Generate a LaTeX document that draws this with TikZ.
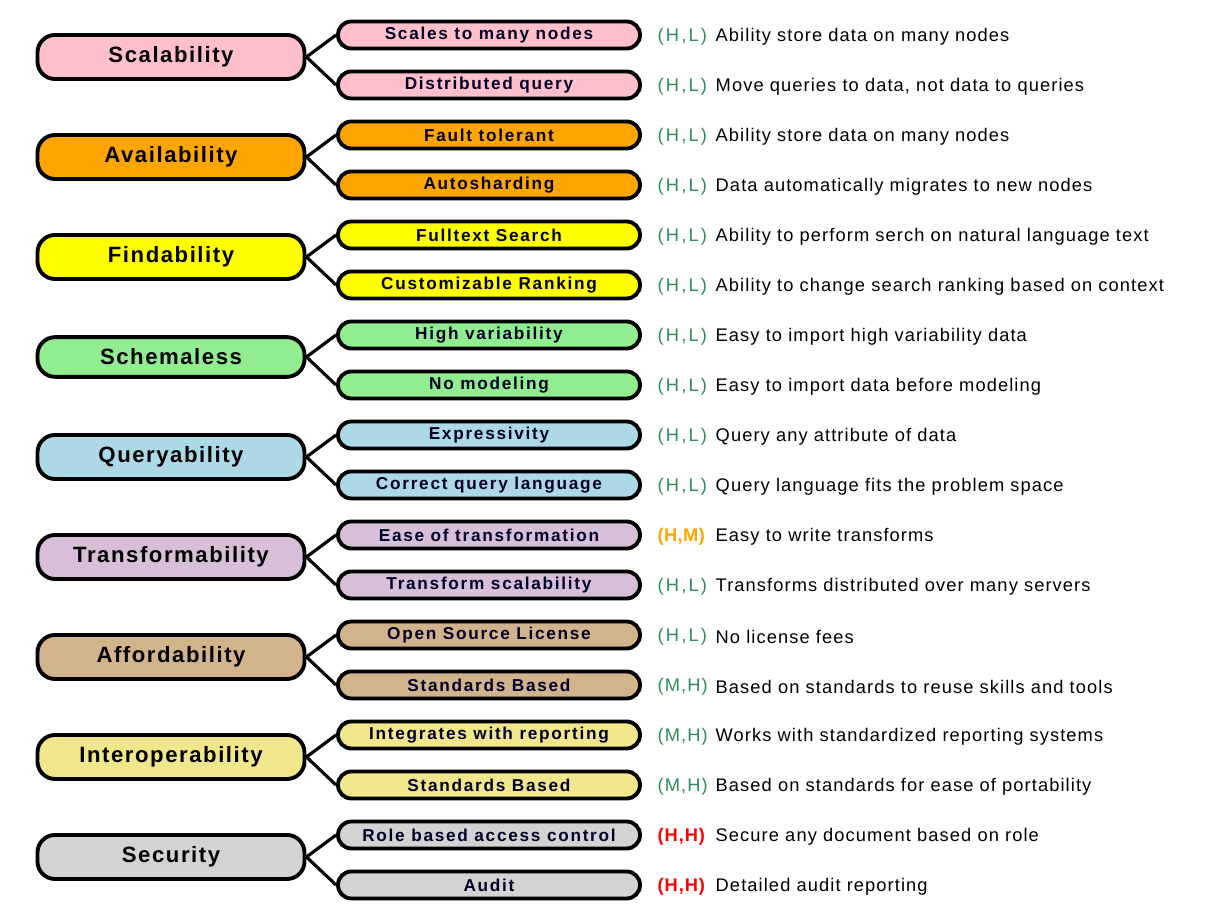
\documentclass[tikz,border=0pt]{standalone}
\usepackage{fontspec}
\setmainfont{Liberation Sans}
\usetikzlibrary{positioning}
\definecolor{rgreen}{HTML}{2E8B57}
\definecolor{rorange}{HTML}{FFA500}
\tikzset{mainbox/.style = {draw, line width=1.1pt, rounded corners=5pt, minimum width=2.67cm, minimum height=0.38cm, font=\fontsize{6.3}{7}\selectfont\bfseries\addfontfeature{LetterSpace=7}},
         subbox/.style = {draw, line width=1.1pt, rounded corners=3.8pt, minimum width=3.02cm, minimum height=0.27cm, inner sep=0pt, font=\fontsize{4.9}{5}\selectfont\bfseries\addfontfeature{LetterSpace=10}, text=black!85!blue},
         branch/.style = {line width=0.9pt},
         desc/.style = {anchor=west, inner sep=0pt, font=\fontsize{5.2}{5.7}\selectfont\addfontfeature{LetterSpace=6}}}
\newcommand{\rl}{\textcolor{rgreen}{\addfontfeature{LetterSpace=12}(H,L)}}
\newcommand{\rmh}{\textcolor{rgreen}{\addfontfeature{LetterSpace=6}(M,H)}}
\newcommand{\rhm}{\textcolor{rorange}{\bfseries\addfontfeature{LetterSpace=2}(H,M)}}
\newcommand{\rhh}{\textcolor{red}{\bfseries\addfontfeature{LetterSpace=5}(H,H)}}
\begin{document}
\begin{tikzpicture}
\useasboundingbox (0,0) rectangle (12.14,-9.22);

\foreach \i/\name/\fc/\sa/\sb/\ra/\da/\rb/\db in {
 0/Scalability/FFC0CB/Scales to many nodes/Distributed query/\rl/Ability store data on many nodes/\rl/{Move queries to data, not data to queries},
 1/Availability/FFA500/Fault tolerant/Autosharding/\rl/Ability store data on many nodes/\rl/Data automatically migrates to new nodes,
 2/Findability/FFFF00/Fulltext Search/Customizable Ranking/\rl/Ability to perform serch on natural language text/\rl/Ability to change search ranking based on context,
 3/Schemaless/90EE90/High variability/No modeling/\rl/Easy to import high variability data/\rl/Easy to import data before modeling,
 4/Queryability/ADD8E6/Expressivity/Correct query language/\rl/Query any attribute of data/\rl/Query language fits the problem space,
 5/Transformability/D8BFD8/Ease of transformation/Transform scalability/\rhm/Easy to write transforms/\rl/Transforms distributed over many servers,
 6/Affordability/D2B48C/Open Source License/Standards Based/\rl/No license fees/\rmh/Based on standards to reuse skills and tools,
 7/Interoperability/F0E68C/Integrates with reporting/Standards Based/\rmh/Works with standardized reporting systems/\rmh/Based on standards for ease of portability,
 8/Security/D3D3D3/Role based access control/Audit/\rhh/Secure any document based on role/\rhh/Detailed audit reporting}
{
  \definecolor{fillc}{HTML}{\fc}
  \node[mainbox, fill=fillc] (main\i) at (1.71,-0.57-\i) {\name};
  \node[subbox, fill=fillc] (suba\i) at (4.89,-0.35-\i) {\sa};
  \node[subbox, fill=fillc] (subb\i) at (4.89,-0.85-\i) {\sb};
  \draw[branch] (main\i.east) -- (suba\i.west);
  \draw[branch] (main\i.east) -- (subb\i.west);
  \node[desc] (ra\i) at (6.57,-0.37-\i) {\ra};
  \node[desc] (da\i) at (7.15,-0.37-\i) {\da};
  \node[desc] (rb\i) at (6.57,-0.87-\i) {\rb};
  \node[desc] (db\i) at (7.15,-0.87-\i) {\db};
}

\end{tikzpicture}
\end{document}
